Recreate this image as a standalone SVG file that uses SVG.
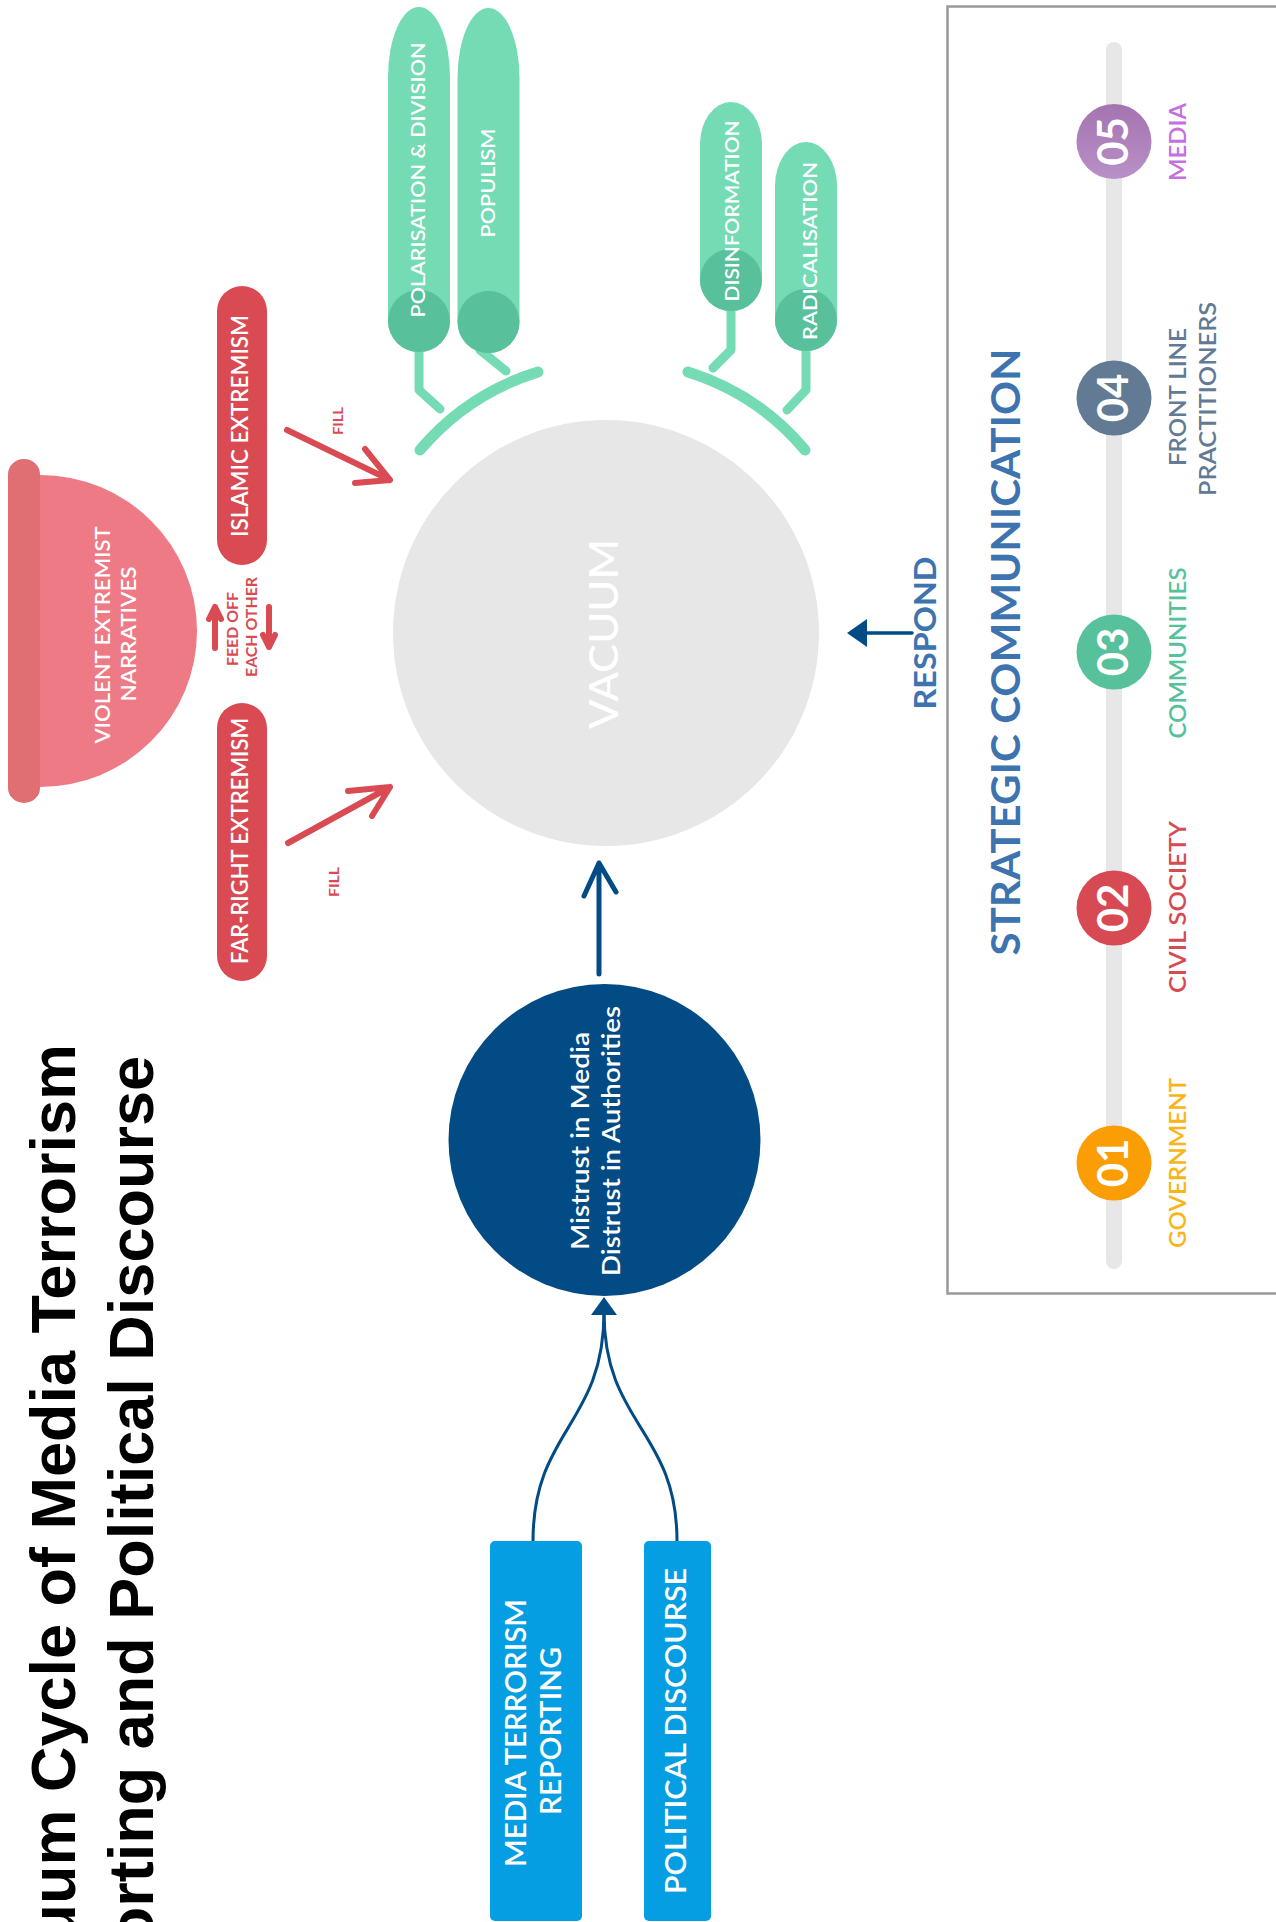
<svg xmlns="http://www.w3.org/2000/svg" width="1276" height="1922" viewBox="0 0 1276 1922">
<style>
.f{font-family:Lato,"Open Sans","DejaVu Sans",sans-serif;}
.title{font-family:"Liberation Sans",Arial,sans-serif;font-weight:700;font-size:63px;fill:#000;}
.w{fill:#fff;}
.red{fill:#d94a52;}
.sb{fill:#3d73af;}
.conn-red{stroke:#d94a52;stroke-width:6;fill:none;stroke-linecap:round;stroke-linejoin:round;}
.conn-blue{stroke:#024b84;fill:none;stroke-linecap:round;stroke-linejoin:round;}
.green-line{stroke:#74dbb4;fill:none;stroke-linecap:round;stroke-linejoin:round;}
.gl{fill:#74dbb4;}
.gd{fill:#59c09c;}
</style>
<defs>
<linearGradient id="purp" x1="0" y1="0" x2="0" y2="1">
<stop offset="0" stop-color="#a474b0"/>
<stop offset="1" stop-color="#b990c8"/>
</linearGradient>
</defs>
<rect width="1276" height="1922" fill="#fff"/>

<!-- Title -->
<g id="title">
<text class="title" text-anchor="end" transform="translate(75 1044) rotate(-90)">Vacuum Cycle of Media Terrorism</text>
<text class="title" text-anchor="end" transform="translate(153 1056) rotate(-90)">Reporting and Political Discourse</text>
</g>

<!-- Connectors -->
<g id="connectors">
<path class="conn-blue" stroke-width="3" d="M533,1541 C533,1430 604,1425 604,1312"/>
<path class="conn-blue" stroke-width="3" d="M677,1541 C677,1430 604,1425 604,1312"/>
<polygon points="604,1297 591,1315 617,1315" fill="#024b84"/>
<path class="conn-blue" stroke-width="5" d="M599,974 L599,863 M584,896 L599,863 L616,892"/>
<path class="conn-blue" stroke-width="3.5" d="M912,633 L864,633"/>
<polygon points="847,633 867,619 867,647" fill="#024b84"/>
<path class="conn-red" d="M287,430 L390,480 M365,449 L390,480 L355,483"/>
<path class="conn-red" d="M288,843 L390,787 M348,791 L390,787 L372,816"/>
<path class="conn-red" stroke-width="2" d="M215,648 L215,607 M209,619 L215,607 L221,619"/>
<path class="conn-red" stroke-width="2" d="M269,607 L269,647 M263,635 L269,647 L275,635"/>
<path class="green-line" stroke-width="11" d="M420,450 A251,251 0 0 1 538,372"/>
<path class="green-line" stroke-width="11" d="M688,372 A251,251 0 0 1 805,450"/>
<path class="green-line" stroke-width="9" d="M419,350 L419,390 L440,409"/>
<path class="green-line" stroke-width="9" d="M480,350 L506,371"/>
<path class="green-line" stroke-width="9" d="M731,310 L731,350 L713,368"/>
<path class="green-line" stroke-width="9" d="M806,350 L806,390 L787,410"/>
</g>

<g id="media-terrorism-reporting">
<rect x="490" y="1541" width="92" height="380" rx="5" fill="#069ee2"/>
<text class="f w" font-size="28" font-weight="600" text-anchor="middle" textLength="268" lengthAdjust="spacingAndGlyphs" transform="translate(526 1733) rotate(-90)">MEDIA TERRORISM</text>
<text class="f w" font-size="28" font-weight="600" text-anchor="middle" textLength="168" lengthAdjust="spacingAndGlyphs" transform="translate(561 1731) rotate(-90)">REPORTING</text>
</g>
<g id="political-discourse">
<rect x="644" y="1541" width="67" height="380" rx="5" fill="#069ee2"/>
<text class="f w" font-size="28" font-weight="600" text-anchor="middle" textLength="326" lengthAdjust="spacingAndGlyphs" transform="translate(686 1731) rotate(-90)">POLITICAL DISCOURSE</text>
</g>

<g id="mistrust">
<circle cx="604.5" cy="1140" r="156" fill="#024b84"/>
<text class="f w" font-size="25" font-weight="600" text-anchor="middle" textLength="218" lengthAdjust="spacingAndGlyphs" transform="translate(589 1141) rotate(-90)">Mistrust in Media</text>
<text class="f w" font-size="25" font-weight="600" text-anchor="middle" textLength="270" lengthAdjust="spacingAndGlyphs" transform="translate(620 1141) rotate(-90)">Distrust in Authorities</text>
</g>

<g id="vacuum">
<circle cx="606" cy="633" r="213" fill="#e6e7e6"/>
<text class="f w" font-size="41" font-weight="500" text-anchor="middle" textLength="190" lengthAdjust="spacingAndGlyphs" transform="translate(618 634) rotate(-90)">VACUUM</text>
</g>

<g id="respond-label">
<text class="f sb" font-size="31" font-weight="700" text-anchor="middle" textLength="153" lengthAdjust="spacingAndGlyphs" transform="translate(936 633) rotate(-90)">RESPOND</text>
</g>

<g id="violent-extremist-narratives">
<path d="M40,475 A157,156 0 0 1 40,787 Z" fill="#ed7a85"/>
<rect x="8" y="459" width="32" height="344" rx="16" ry="15" fill="#e06f74"/>
<text class="f w" font-size="21" font-weight="600" text-anchor="middle" textLength="217" lengthAdjust="spacingAndGlyphs" transform="translate(110 635) rotate(-90)">VIOLENT EXTREMIST</text>
<text class="f w" font-size="21" font-weight="600" text-anchor="middle" textLength="135" lengthAdjust="spacingAndGlyphs" transform="translate(136 634) rotate(-90)">NARRATIVES</text>
</g>

<g id="islamic-extremism">
<rect x="217" y="286" width="50" height="279" rx="25" class="red"/>
<text class="f w" font-size="22" font-weight="600" text-anchor="middle" textLength="222" lengthAdjust="spacingAndGlyphs" transform="translate(248 426) rotate(-90)">ISLAMIC EXTREMISM</text>
</g>
<g id="far-right-extremism">
<rect x="217" y="703" width="50" height="278" rx="25" class="red"/>
<text class="f w" font-size="22" font-weight="600" text-anchor="middle" textLength="246" lengthAdjust="spacingAndGlyphs" transform="translate(248 841) rotate(-90)">FAR-RIGHT EXTREMISM</text>
</g>

<g id="feed-off-label">
<text class="f red" font-size="15" font-weight="700" text-anchor="middle" textLength="74" lengthAdjust="spacingAndGlyphs" transform="translate(238 629) rotate(-90)">FEED OFF</text>
<text class="f red" font-size="15" font-weight="700" text-anchor="middle" textLength="100" lengthAdjust="spacingAndGlyphs" transform="translate(257 627) rotate(-90)">EACH OTHER</text>
</g>
<g id="fill-labels">
<text class="f red" font-size="13" font-weight="700" text-anchor="middle" textLength="28" lengthAdjust="spacingAndGlyphs" transform="translate(343 421) rotate(-90)">FILL</text>
<text class="f red" font-size="13" font-weight="700" text-anchor="middle" textLength="30" lengthAdjust="spacingAndGlyphs" transform="translate(339 882) rotate(-90)">FILL</text>
</g>

<g id="polarisation">
<path class="gl" d="M388,77 A31,70 0 0 1 450,77 L450,321 A31,31 0 0 1 388,321 Z"/>
<circle cx="419" cy="321" r="31" class="gd"/>
<text class="f w" font-size="20" font-weight="600" text-anchor="middle" textLength="275" lengthAdjust="spacingAndGlyphs" transform="translate(425 180) rotate(-90)">POLARISATION &amp; DIVISION</text>
</g>
<g id="populism">
<path class="gl" d="M457.5,78 A31,70 0 0 1 519.5,78 L519.5,322 A31,31 0 0 1 457.5,322 Z"/>
<circle cx="488.5" cy="322" r="31" class="gd"/>
<text class="f w" font-size="20" font-weight="600" text-anchor="middle" textLength="109" lengthAdjust="spacingAndGlyphs" transform="translate(495 183) rotate(-90)">POPULISM</text>
</g>
<g id="disinformation">
<path class="gl" d="M700,144 A31,42 0 0 1 762,144 L762,280 A31,31 0 0 1 700,280 Z"/>
<circle cx="731" cy="280" r="31" class="gd"/>
<text class="f w" font-size="20" font-weight="600" text-anchor="middle" textLength="181" lengthAdjust="spacingAndGlyphs" transform="translate(739 211) rotate(-90)">DISINFORMATION</text>
</g>
<g id="radicalisation">
<path class="gl" d="M775,186 A31,44 0 0 1 837,186 L837,320 A31,31 0 0 1 775,320 Z"/>
<circle cx="806" cy="320" r="31" class="gd"/>
<text class="f w" font-size="20" font-weight="600" text-anchor="middle" textLength="178" lengthAdjust="spacingAndGlyphs" transform="translate(817 251) rotate(-90)">RADICALISATION</text>
</g>

<g id="strategic-communication">
<rect x="947.5" y="6.5" width="345" height="1287" fill="none" stroke="#999" stroke-width="2.5"/>
<text class="f sb" font-size="41" font-weight="700" text-anchor="middle" textLength="607" lengthAdjust="spacingAndGlyphs" transform="translate(1020 652) rotate(-90)">STRATEGIC COMMUNICATION</text>
<path d="M1114,50 L1114,1261" stroke="#e6e7e6" stroke-width="16" stroke-linecap="round" fill="none"/>
</g>
<g id="media">
<circle cx="1114" cy="141.5" r="37.5" fill="url(#purp)"/>
<text class="f w" font-size="42" font-weight="700" text-anchor="middle" transform="translate(1128 141.5) rotate(-90)">05</text>
<text class="f" fill="#c66fe0" font-size="23" font-weight="600" text-anchor="middle" textLength="78" lengthAdjust="spacingAndGlyphs" transform="translate(1186 142) rotate(-90)">MEDIA</text>
</g>
<g id="front-line-practitioners">
<circle cx="1114" cy="398" r="37.5" fill="#627a94"/>
<text class="f w" font-size="42" font-weight="700" text-anchor="middle" transform="translate(1128 398) rotate(-90)">04</text>
<text class="f" fill="#627a94" font-size="23" font-weight="600" text-anchor="middle" textLength="138" lengthAdjust="spacingAndGlyphs" transform="translate(1186 397) rotate(-90)">FRONT LINE</text>
<text class="f" fill="#627a94" font-size="23" font-weight="600" text-anchor="middle" textLength="194" lengthAdjust="spacingAndGlyphs" transform="translate(1216 399) rotate(-90)">PRACTITIONERS</text>
</g>
<g id="communities">
<circle cx="1114" cy="652" r="37.5" fill="#56c19b"/>
<text class="f w" font-size="42" font-weight="700" text-anchor="middle" transform="translate(1128 652) rotate(-90)">03</text>
<text class="f" fill="#56c19b" font-size="23" font-weight="600" text-anchor="middle" textLength="171" lengthAdjust="spacingAndGlyphs" transform="translate(1186 653) rotate(-90)">COMMUNITIES</text>
</g>
<g id="civil-society">
<circle cx="1114" cy="908" r="37.5" fill="#d84a53"/>
<text class="f w" font-size="42" font-weight="700" text-anchor="middle" transform="translate(1128 908) rotate(-90)">02</text>
<text class="f" fill="#d84a53" font-size="23" font-weight="600" text-anchor="middle" textLength="172" lengthAdjust="spacingAndGlyphs" transform="translate(1186 907) rotate(-90)">CIVIL SOCIETY</text>
</g>
<g id="government">
<circle cx="1114" cy="1163" r="37.5" fill="#fb9d05"/>
<text class="f w" font-size="42" font-weight="700" text-anchor="middle" transform="translate(1128 1163) rotate(-90)">01</text>
<text class="f" fill="#fbb417" font-size="23" font-weight="600" text-anchor="middle" textLength="170" lengthAdjust="spacingAndGlyphs" transform="translate(1186 1163) rotate(-90)">GOVERNMENT</text>
</g>
</svg>
